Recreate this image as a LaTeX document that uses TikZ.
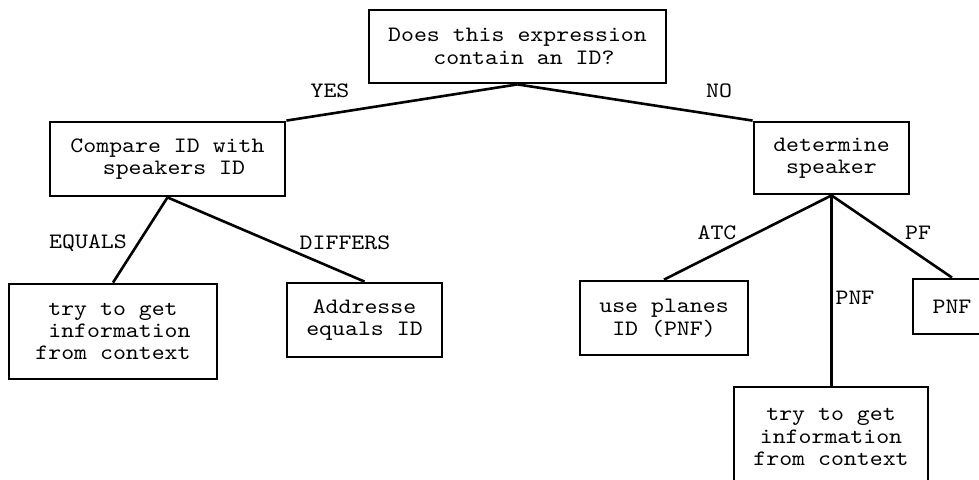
\documentclass[tikz,border=0pt]{standalone}
\usepackage{fontspec}
\newfontfamily\courfont{lmmono10-regular.otf}[FakeStretch=1.12]
\begin{document}
\begin{tikzpicture}[x=1pt,y=-1pt,
  box/.style={draw,line width=2.8pt,inner sep=0pt,align=center,font=\courfont\fontsize{22}{22.4}\selectfont},
  lbl/.style={inner sep=0pt,font=\courfont\fontsize{22}{22.4}\selectfont},
  conn/.style={line width=2.6pt}]
\clip (0,0) rectangle (979,479);
\node[box,minimum width=297pt,minimum height=73pt] (root) at (517.5,46.5) {Does this expression\\~contain an ID?};
\node[box,minimum width=235pt,minimum height=74pt] (cmp) at (167.5,159) {Compare ID with\\~speakers ID};
\node[box,minimum width=208pt,minimum height=95pt] (ctxa) at (113,331.5) {try to get\\~information\\from context};
\node[box,minimum width=155pt,minimum height=74pt] (addr) at (364.5,320) {Addresse\\equals ID};
\node[box,minimum width=155pt,minimum height=72pt] (det) at (831.5,158) {determine\\speaker};
\node[box,minimum width=168pt,minimum height=74pt] (planes) at (664,318) {use planes\\ID (PNF)};
\node[box,minimum width=78pt,minimum height=55pt] (pnf) at (952,306.5) {PNF};
\node[box,minimum width=194pt,minimum height=100pt] (ctxb) at (831,437) {try to get\\information\\from context};
\draw[conn] (root.south) -- (cmp.north east);
\draw[conn] (root.south) -- (det.north west);
\draw[conn] (cmp.south) -- (ctxa.north);
\draw[conn] (cmp.south) -- (addr.north);
\draw[conn] (det.south) -- (planes.north);
\draw[conn] (det.south) -- (det.south |- ctxb.north);
\draw[conn] (det.south) -- (pnf.north);
\node[lbl] (lyes) at (330,91) {YES};
\node[lbl] (lno) at (719,91) {NO};
\node[lbl] (leq) at (88,243) {EQUALS};
\node[lbl] (ldif) at (345,243) {DIFFERS};
\node[lbl] (latc) at (717,233) {ATC};
\node[lbl] (lpf) at (918,233) {PF};
\node[lbl] (lpnf) at (855,298) {PNF};
\end{tikzpicture}
\end{document}
